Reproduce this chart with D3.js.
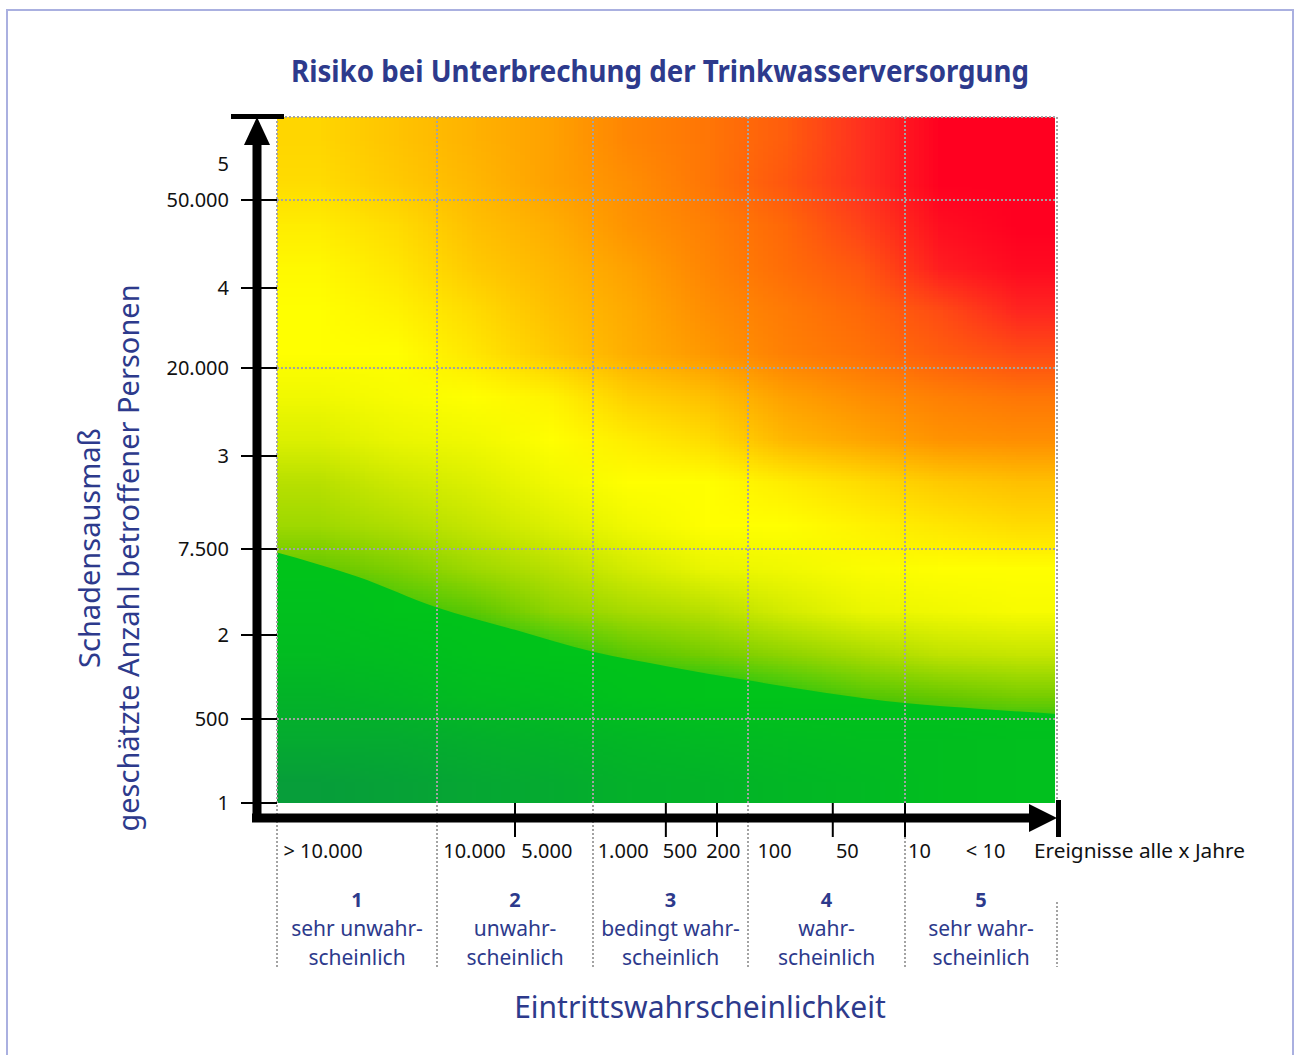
<!DOCTYPE html>
<html>
<head>
<meta charset="utf-8">
<script src="https://cdn.jsdelivr.net/npm/d3@7"></script>
<style>
  body { margin: 0; background: #fff; }
  svg { display: block; font-family: "Noto Sans", "Open Sans", sans-serif; }
</style>
</head>
<body>
<svg id="chart" width="1294" height="1055"></svg>
<script>
// ---- data ----
const chartTitle = "Risiko bei Unterbrechung der Trinkwasserversorgung";
const classNumbers = ["1", "2", "3", "4", "5"];
const classNames = [
  ["sehr unwahr-", "scheinlich"],
  ["unwahr-", "scheinlich"],
  ["bedingt wahr-", "scheinlich"],
  ["wahr-", "scheinlich"],
  ["sehr wahr-", "scheinlich"]
];
// severity axis (1..5) with the person-count thresholds in between
const yTickValues = [1, 1.5, 2, 2.5, 3, 3.5, 4, 4.5];
const yTickLabels = ["1", "500", "2", "7.500", "3", "20.000", "4", "50.000"];
const yTopLabel = { value: 4.72, label: "5" };
// probability axis, in class units 0..5
const xTickMarks = [1.5, 2.47, 2.8, 3.54, 4];
const xTickLabels = ["> 10.000", "10.000", "5.000", "1.000", "500", "200", "100", "50", "10", "< 10"];
const xTickLabelAt = [0.04, 1.04, 1.54, 2.03, 2.45, 2.73, 3.06, 3.56, 4.02, 4.4];
const xAxisName = "Ereignisse alle x Jahre";
const xTitle = "Eintrittswahrscheinlichkeit";
const yTitle = ["Schadensausmaß", "geschätzte Anzahl betroffener Personen"];

// risk level (1 = low/green .. 10 = high/red), rows top->bottom, columns left->right (half classes)
const riskGrid = [
  [5.7, 6.0, 6.4, 6.8, 7.4, 7.7, 8.2, 9.0, 10, 10],
  [5.6, 5.9, 6.3, 6.8, 7.2, 7.7, 8.3, 9.0, 10, 10],
  [5.3, 5.6, 6.1, 6.5, 7.1, 7.5, 8.0, 8.7, 9.7, 10],
  [5.1, 5.4, 5.9, 6.3, 6.8, 7.4, 7.9, 8.3, 9.4, 9.8],
  [5.0, 5.2, 5.6, 6.1, 6.6, 7.2, 7.6, 8.0, 8.5, 9.2],
  [5.0, 5.0, 5.4, 5.9, 6.5, 7.0, 7.5, 7.8, 8.2, 8.5],
  [4.8, 4.9, 5.0, 5.2, 5.8, 6.1, 6.8, 7.2, 7.5, 7.7],
  [4.5, 4.7, 4.8, 5.0, 5.3, 5.6, 6.3, 6.7, 7.1, 7.2],
  [4.0, 4.3, 4.5, 4.8, 5.0, 5.0, 5.3, 5.6, 5.9, 6.1],
  [3.7, 3.9, 4.2, 4.5, 4.8, 5.0, 5.0, 5.2, 5.4, 5.6],
  [3.0, 3.3, 3.7, 4.0, 4.4, 4.7, 4.8, 4.95, 5.0, 5.0],
  [1.9, 2.6, 2.9, 3.5, 3.8, 4.0, 4.4, 4.7, 4.8, 4.9],
  [1.8, 1.85, 1.95, 2.4, 2.9, 3.2, 3.5, 3.8, 4.1, 4.2],
  [1.6, 1.7, 1.8, 1.85, 1.95, 2.0, 2.4, 2.8, 3.0, 3.2],
  [1.4, 1.4, 1.5, 1.6, 1.7, 1.75, 1.8, 1.85, 1.85, 1.9],
  [1.1, 1.2, 1.3, 1.4, 1.55, 1.6, 1.7, 1.75, 1.85, 1.9]
];
// upper edge of the green zone (severity) at class positions 0, 0.5, ... 5
const greenEdge = [2.48, 2.34, 2.16, 2.03, 1.90, 1.81, 1.73, 1.655, 1.595, 1.56, 1.53];

const riskStops = [1, 2, 3, 4, 5, 6, 7, 8, 9, 10];
const riskColors = ["#089a3e", "#00c41a", "#66c800", "#b8e000", "#ffff00", "#ffc400", "#ff9800", "#ff6808", "#ff3020", "#ff0020"];

// ---- layout ----
const blue = "#2d3a8c";
const gridGrey = "#a3a3a3";

const svg = d3.select("#chart");

const x = d3.scaleLinear().domain([0, 1, 2, 3, 4, 5]).range([277, 437, 593, 748, 905, 1057]);
const y = d3.scaleLinear()
  .domain([1, 1.5, 2, 2.5, 3, 3.5, 4, 4.5, 5])
  .range([803, 719, 635, 549, 456, 368, 288, 200, 117]);

const riskColor = d3.scaleLinear().domain(riskStops).range(riskColors).clamp(true);
const greenColor = d3.scaleLinear().domain([1, 2]).range([riskColors[0], riskColors[1]]).clamp(true);

// frame
svg.append("rect")
  .attr("x", 7).attr("y", 10).attr("width", 1286).attr("height", 1100)
  .attr("fill", "none").attr("stroke", "#aab0e0").attr("stroke-width", 2);

// title
svg.append("text")
  .attr("x", 660).attr("y", 82)
  .attr("text-anchor", "middle")
  .attr("font-size", 31).attr("font-weight", "bold")
  .attr("fill", blue)
  .attr("textLength", 738).attr("lengthAdjust", "spacingAndGlyphs")
  .text(chartTitle);

// ---- heat field ----
function gridImage(scale) {
  const rows = riskGrid.length, cols = riskGrid[0].length;
  const cv = document.createElement("canvas");
  cv.width = cols; cv.height = rows;
  const ctx = cv.getContext("2d");
  riskGrid.forEach((row, j) => row.forEach((v, i) => {
    ctx.fillStyle = d3.color(scale(v)).formatHex();
    ctx.fillRect(i, j, 1, 1);
  }));
  return cv.toDataURL();
}

const defs = svg.append("defs");
const edgeData = greenEdge.map((s, i) => ({ c: i * 0.5, s: s }));
const upperArea = d3.area()
  .x(d => x(d.c))
  .y0(y(5))
  .y1(d => y(d.s))
  .curve(d3.curveMonotoneX);
defs.append("clipPath").attr("id", "upper")
  .append("path").attr("d", upperArea(edgeData));

const field = svg.append("g");
const fx = x(0), fy = y(5), fw = x(5) - x(0) - 2, fh = y(1) - y(5);

field.append("image")
  .attr("href", gridImage(greenColor))
  .attr("x", fx).attr("y", fy).attr("width", fw).attr("height", fh)
  .attr("preserveAspectRatio", "none");

field.append("image")
  .attr("href", gridImage(riskColor))
  .attr("x", fx).attr("y", fy).attr("width", fw).attr("height", fh)
  .attr("preserveAspectRatio", "none")
  .attr("clip-path", "url(#upper)");

// ---- dotted grid ----
const grid = svg.append("g")
  .attr("stroke", gridGrey).attr("stroke-width", 2).attr("stroke-dasharray", "2,2").attr("fill", "none");

grid.selectAll("line.h")
  .data([1.5, 2.5, 3.5, 4.5, 5])
  .join("line")
  .attr("class", "h")
  .attr("x1", x(0)).attr("x2", x(5))
  .attr("y1", d => y(d)).attr("y2", d => y(d));

grid.selectAll("line.v")
  .data([0, 1, 2, 3, 4])
  .join("line")
  .attr("class", "v")
  .attr("x1", d => x(d)).attr("x2", d => x(d))
  .attr("y1", y(5)).attr("y2", 967);

grid.append("line")
  .attr("x1", x(5)).attr("x2", x(5)).attr("y1", y(5)).attr("y2", y(1));
grid.append("line")
  .attr("x1", x(5)).attr("x2", x(5)).attr("y1", 902).attr("y2", 967);

// ---- y axis ----
const yAxis = svg.append("g");
yAxis.selectAll("line.tick")
  .data(yTickValues)
  .join("line")
  .attr("class", "tick")
  .attr("x1", 241).attr("x2", 277)
  .attr("y1", d => y(d)).attr("y2", d => y(d))
  .attr("stroke", "#000").attr("stroke-width", 2);

yAxis.selectAll("text.tick")
  .data(yTickValues.map((v, i) => ({ v, label: yTickLabels[i] })).concat([{ v: yTopLabel.value, label: yTopLabel.label }]))
  .join("text")
  .attr("class", "tick")
  .attr("x", 229)
  .attr("y", d => y(d.v))
  .attr("dy", "0.36em")
  .attr("text-anchor", "end")
  .attr("font-size", 20)
  .attr("fill", "#111")
  .text(d => d.label);

yAxis.append("line")
  .attr("x1", 257).attr("x2", 257).attr("y1", 138).attr("y2", 822)
  .attr("stroke", "#000").attr("stroke-width", 9);
yAxis.append("path")
  .attr("d", "M257,117 L270,145 L244,145 Z")
  .attr("fill", "#000");
yAxis.append("rect")
  .attr("x", 231).attr("y", 114).attr("width", 53).attr("height", 5)
  .attr("fill", "#000");

// ---- x axis ----
const xAxis = svg.append("g");
xAxis.selectAll("line.tick")
  .data(xTickMarks)
  .join("line")
  .attr("class", "tick")
  .attr("x1", d => x(d)).attr("x2", d => x(d))
  .attr("y1", y(1)).attr("y2", 837)
  .attr("stroke", "#000").attr("stroke-width", 2);

xAxis.append("line")
  .attr("x1", 252).attr("x2", 1034).attr("y1", 818).attr("y2", 818)
  .attr("stroke", "#000").attr("stroke-width", 9);
xAxis.append("path")
  .attr("d", "M1057,818 L1029,804 L1029,832 Z")
  .attr("fill", "#000");
xAxis.append("rect")
  .attr("x", 1056).attr("y", 800).attr("width", 5).attr("height", 37)
  .attr("fill", "#000");

xAxis.selectAll("text.tick")
  .data(xTickLabels.map((label, i) => ({ label, at: xTickLabelAt[i] })))
  .join("text")
  .attr("class", "tick")
  .attr("x", d => x(d.at))
  .attr("y", 858)
  .attr("font-size", 20)
  .attr("fill", "#111")
  .text(d => d.label);

xAxis.append("text")
  .attr("x", x(5) - 23).attr("y", 858)
  .attr("font-size", 20.5)
  .attr("fill", "#111")
  .attr("textLength", 211).attr("lengthAdjust", "spacingAndGlyphs")
  .text(xAxisName);

// ---- probability classes ----
const classes = svg.append("g")
  .selectAll("g")
  .data(classNumbers.map((n, i) => ({ n, lines: classNames[i], c: i + 0.5 })))
  .join("g")
  .attr("transform", d => `translate(${x(d.c)},0)`)
  .attr("text-anchor", "middle")
  .attr("fill", blue);

classes.append("text")
  .attr("y", 907).attr("font-size", 20).attr("font-weight", "bold")
  .text(d => d.n);
classes.append("text")
  .attr("y", 936).attr("font-size", 21)
  .text(d => d.lines[0]);
classes.append("text")
  .attr("y", 965).attr("font-size", 21)
  .text(d => d.lines[1]);

// axis titles
svg.append("text")
  .attr("x", 700).attr("y", 1018)
  .attr("text-anchor", "middle")
  .attr("font-size", 30)
  .attr("fill", blue)
  .text(xTitle);

const yT = svg.append("g")
  .attr("transform", "translate(0,558) rotate(-90)")
  .attr("text-anchor", "middle")
  .attr("fill", blue)
  .attr("font-size", 29);
yT.append("text").attr("x", 10).attr("y", 100).text(yTitle[0]);
yT.append("text").attr("x", 0).attr("y", 139).text(yTitle[1]);
</script>
</body>
</html>
